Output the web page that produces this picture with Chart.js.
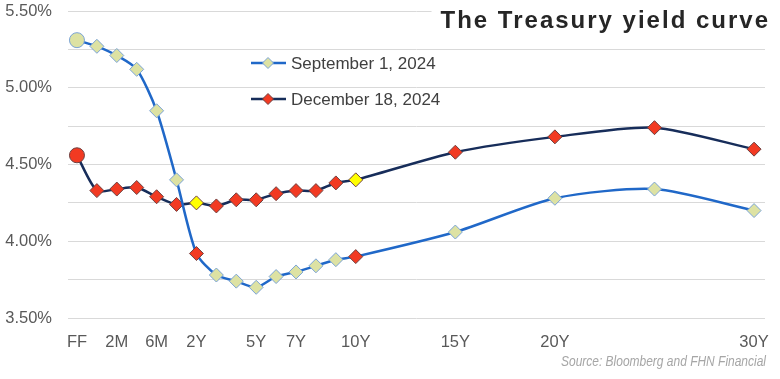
<!DOCTYPE html>
<html>
<head>
<meta charset="utf-8">
<script src="https://cdn.jsdelivr.net/npm/chart.js@4.4.1/dist/chart.umd.min.js"></script>
<style>
  html, body { margin: 0; padding: 0; background: #ffffff; }
  #wrap { width: 780px; height: 379px; position: relative; }
</style>
</head>
<body>
<div id="wrap"><canvas id="c" width="780" height="379"></canvas></div>
<script>
// ---- Data ----
const categories = ['FF','1M','2M','3M','6M','1Y','2Y','3Y','4Y','5Y','6Y','7Y','8Y','9Y','10Y','15Y','20Y','25Y','30Y'];
const tenorPositions = [0,1,2,3,4,5,6,7,8,9,10,11,12,13,14,19,24,29,34];
const sep2024 = [5.31,5.27,5.21,5.12,4.85,4.40,3.92,3.78,3.74,3.70,3.77,3.80,3.84,3.88,3.90,4.06,4.28,4.34,4.20];
const dec2024 = [4.56,4.33,4.34,4.35,4.29,4.24,4.25,4.23,4.27,4.27,4.31,4.33,4.33,4.38,4.40,4.58,4.68,4.74,4.60];
const tickLabels = ['FF','2M','6M','2Y','5Y','7Y','10Y','15Y','20Y','30Y'];
const seriesNames = ['September 1, 2024','December 18, 2024'];
const highlighted = ['2Y','10Y'];

// ---- Styles ----
const SEP_LINE = '#2068c8', SEP_FILL = '#dde2a3', SEP_BORDER = '#7aa3d6';
const DEC_LINE = '#172d5a', DEC_FILL = '#f23a22', DEC_BORDER = '#6e4040';
const YELLOW = '#ffff00';
const AXIS_FONT = { family: '"Liberation Sans", Arial, sans-serif', size: 16.5 };

const tickPositions = tickLabels.map(l => tenorPositions[categories.indexOf(l)]);
const labelAt = {};
tickLabels.forEach((l, i) => { labelAt[tickPositions[i]] = l; });

function pts(vals) { return vals.map((v, i) => ({ x: tenorPositions[i], y: v })); }
function styleArr(normal, ff, hl) {
  return categories.map(c => c === 'FF' ? ff : (highlighted.includes(c) ? hl : normal));
}

const decorPlugin = {
  id: 'decor',
  afterDraw(chart) {
    const ctx = chart.ctx;
    ctx.save();
    // Title with white backing
    ctx.font = 'bold 24px "Liberation Sans", Arial, sans-serif';
    try { ctx.letterSpacing = '2px'; } catch (e) {}
    const title = 'The Treasury yield curve';
    const tw = ctx.measureText(title).width;
    ctx.fillStyle = '#ffffff';
    ctx.fillRect(767 - tw - 6, 2, tw + 14, 32);
    ctx.fillStyle = '#262626';
    ctx.textAlign = 'right';
    ctx.textBaseline = 'alphabetic';
    ctx.fillText(title, 770, 28);
    try { ctx.letterSpacing = '0px'; } catch (e) {}

    // Legend
    const items = [
      { y: 63, line: SEP_LINE, fill: SEP_FILL, border: SEP_BORDER, text: seriesNames[0] },
      { y: 99, line: DEC_LINE, fill: DEC_FILL, border: DEC_BORDER, text: seriesNames[1] }
    ];
    items.forEach(it => {
      ctx.strokeStyle = it.line;
      ctx.lineWidth = 2.5;
      ctx.beginPath();
      ctx.moveTo(251, it.y); ctx.lineTo(286, it.y);
      ctx.stroke();
      ctx.beginPath();
      const r = 5.5, cx = 268;
      ctx.moveTo(cx, it.y - r); ctx.lineTo(cx + r, it.y); ctx.lineTo(cx, it.y + r); ctx.lineTo(cx - r, it.y); ctx.closePath();
      ctx.fillStyle = it.fill; ctx.fill();
      ctx.lineWidth = 1; ctx.strokeStyle = it.border; ctx.stroke();
      ctx.fillStyle = '#404040';
      ctx.font = '17px "Liberation Sans", Arial, sans-serif';
      ctx.textAlign = 'left';
      ctx.textBaseline = 'middle';
      ctx.fillText(it.text, 291, it.y + 1);
    });

    // Source note (condensed italic)
    const src = 'Source: Bloomberg and FHN Financial';
    ctx.font = 'italic 14px "Liberation Sans Narrow", "Liberation Sans", Arial, sans-serif';
    const sw = ctx.measureText(src).width;
    const target = 205;
    ctx.translate(766, 362);
    ctx.scale(target / sw, 1);
    ctx.fillStyle = '#a6a6a6';
    ctx.textAlign = 'right';
    ctx.textBaseline = 'middle';
    ctx.fillText(src, 0, 0);
    ctx.restore();
  }
};

new Chart(document.getElementById('c'), {
  type: 'line',
  data: {
    datasets: [
      {
        label: seriesNames[0],
        data: pts(sep2024),
        borderColor: SEP_LINE,
        borderWidth: 2.5,
        tension: 0.25,
        pointStyle: styleArr('rectRot', 'circle', 'rectRot'),
        pointRadius: styleArr(7, 7.5, 7),
        pointBackgroundColor: styleArr(SEP_FILL, SEP_FILL, DEC_FILL),
        pointBorderColor: styleArr(SEP_BORDER, SEP_BORDER, DEC_BORDER),
        pointBorderWidth: 1,
        fill: false
      },
      {
        label: seriesNames[1],
        data: pts(dec2024),
        borderColor: DEC_LINE,
        borderWidth: 2.5,
        tension: 0.25,
        pointStyle: styleArr('rectRot', 'circle', 'rectRot'),
        pointRadius: styleArr(7, 7.5, 7),
        pointBackgroundColor: styleArr(DEC_FILL, DEC_FILL, YELLOW),
        pointBorderColor: styleArr(DEC_BORDER, DEC_BORDER, DEC_BORDER),
        pointBorderWidth: 1,
        fill: false
      }
    ]
  },
  options: {
    responsive: false,
    animation: false,
    events: [],
    layout: { padding: { top: 11, right: 15, left: 0, bottom: 0 } },
    plugins: { legend: { display: false }, tooltip: { enabled: false }, title: { display: false } },
    scales: {
      x: {
        type: 'linear',
        min: -0.45,
        max: 34.55,
        grid: { display: false, drawTicks: false },
        border: { display: false },
        afterBuildTicks(scale) { scale.ticks = tickPositions.map(v => ({ value: v })); },
        afterFit(scale) { scale.height = 61; scale.paddingLeft = 0; scale.paddingRight = 0; },
        ticks: {
          autoSkip: false,
          maxRotation: 0,
          padding: 15,
          color: '#595959',
          font: AXIS_FONT,
          callback: v => labelAt[v] || ''
        }
      },
      y: {
        min: 3.5,
        max: 5.5,
        grid: { color: '#d9d9d9', lineWidth: 1, drawTicks: false },
        border: { display: false },
        afterFit(scale) { scale.width = 68; scale.paddingTop = 0; scale.paddingBottom = 0; },
        ticks: {
          stepSize: 0.25,
          padding: 16,
          color: '#595959',
          font: AXIS_FONT,
          callback: v => (Math.abs(v * 2 - Math.round(v * 2)) < 1e-9) ? v.toFixed(2) + '%' : ''
        }
      }
    }
  },
  plugins: [decorPlugin]
});
</script>
</body>
</html>
